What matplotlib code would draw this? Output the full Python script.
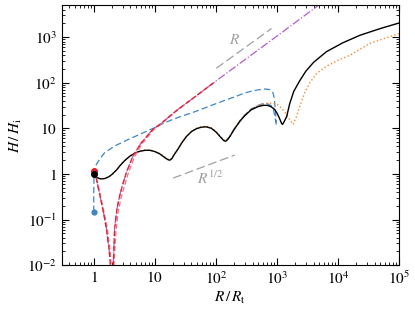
import matplotlib
matplotlib.use('Agg')
import matplotlib.pyplot as plt
from matplotlib.ticker import FixedLocator, LogLocator, NullFormatter

plt.rcParams['font.family'] = 'serif'
plt.rcParams['font.serif'] = ['Liberation Serif', 'DejaVu Serif']
plt.rcParams['mathtext.fontset'] = 'stix'

# black solid (full model)
R_black = [1.0, 1.05, 1.15, 1.3, 1.5, 1.75, 2.0, 2.4, 2.67, 3.2, 3.9, 4.7, 5.7, 7.0, 8.3, 10, 12.1,
           14.5, 16.5, 17.6, 19, 21, 24, 28, 33, 40, 48, 58, 70, 85, 102, 120, 135, 145, 155, 170,
           200, 250, 299, 380, 495, 600, 700, 800, 925, 1020, 1120, 1200, 1240, 1300, 1450, 1630,
           1900, 2370, 3000, 4000, 6500, 12000, 23000, 50000, 1e5]
H_black = [1.0, 0.9, 0.82, 0.78, 0.79, 0.86, 0.98, 1.25, 1.5, 1.95, 2.45, 2.85, 3.15, 3.3, 3.3, 3.1,
           2.75, 2.3, 2.05, 2.0, 2.15, 2.7, 3.5, 4.9, 6.6, 8.5, 9.8, 10.6, 10.8, 10.0, 8.2, 6.4, 5.4,
           5.2, 5.6, 6.6, 9.5, 14.5, 19, 25.5, 30, 32, 32, 30, 26, 21, 16, 12.8, 12.2, 13.5, 18, 35,
           65, 110, 180, 280, 480, 750, 1100, 1550, 2040]

# orange dotted
R_orange = [1.0, 1.05, 1.15, 1.3, 1.5, 1.75, 2.0, 2.4, 2.67, 3.2, 3.9, 4.7, 5.7, 7.0, 8.3, 10, 12.1,
            14.5, 16.5, 17.6, 19, 21, 24, 28, 33, 40, 48, 58, 70, 85, 102, 120, 135, 145, 155, 170,
            200, 250, 299, 380, 495, 600, 710, 850, 1030, 1200, 1450, 1650, 1850, 2100, 2370, 2870,
            3480, 4500, 6500, 10000, 15700, 33500, 1e5]
H_orange = [1.0, 0.9, 0.82, 0.78, 0.79, 0.86, 0.98, 1.25, 1.5, 1.95, 2.45, 2.87, 3.2, 3.35, 3.35, 3.15,
            2.8, 2.35, 2.1, 2.05, 2.2, 2.75, 3.55, 5.0, 6.7, 8.7, 10.0, 10.9, 11.1, 10.3, 8.5, 6.6, 5.6,
            5.4, 5.8, 6.8, 9.8, 15, 19.8, 26.5, 32, 34, 35.5, 35.5, 33, 28, 20, 15, 12.2, 18, 30, 60,
            100, 160, 230, 310, 400, 730, 1200]

# blue dashed (two runs)
R_blue1 = [1.0, 1.0, 1.01, 1.04, 1.1, 1.25, 1.5, 2.2, 3.9, 6.5, 9.4, 13.7, 20, 30, 48,
           80, 140, 220, 300, 400, 500, 635, 760, 870, 900, 925, 955, 985]
H_blue1 = [0.147, 0.4, 0.8, 1.2, 1.6, 2.1, 2.9, 4.1, 5.9, 8.0, 10.0, 12.8, 15.8, 19.2, 23.8,
           31, 41, 51, 60, 66, 70, 73, 71, 60, 48, 36, 22, 13.3]
R_blue2 = [150, 170, 200, 250, 299, 380, 495, 600, 700, 815, 880, 925, 960, 985]
H_blue2 = [5.6, 6.6, 9.5, 14.5, 19.5, 26.5, 32, 35, 35, 31, 26, 19, 14, 12]

# red dashed and purple dash-dot
R_red = [1.0, 1.1, 1.25, 1.45, 1.61, 1.8, 1.93, 2.0, 2.1, 2.2, 2.4, 2.67, 3.0, 3.44, 4.4, 6.0, 9.3,
         12.1, 24, 50, 90]
H_red = [1.15, 0.8, 0.36, 0.14, 0.064, 0.02, 0.006, 0.003, 0.012, 0.064, 0.17, 0.34, 0.6, 1.09, 2.5,
         4.8, 9.5, 12.2, 26, 54, 98]
R_red2 = [1.0, 1.1, 1.25, 1.45, 1.65, 1.85, 1.98, 2.05, 2.15, 2.3, 2.5, 2.8, 3.2, 3.6, 4.6, 6.2, 9.5,
          12.5, 24, 50, 95]
H_red2 = [1.15, 0.82, 0.4, 0.16, 0.07, 0.022, 0.007, 0.003, 0.01, 0.05, 0.14, 0.3, 0.55, 0.95, 2.3,
          4.6, 9.2, 12.2, 26, 54, 102]
R_purple = [1.0, 1.1, 1.25, 1.45, 1.61, 1.8, 1.93, 2.0, 2.1, 2.2, 2.4, 2.67, 3.0, 3.44, 4.4, 6.0, 9.3,
            12.1, 24, 50, 90, 1000, 5500]
H_purple = [1.15, 0.8, 0.36, 0.14, 0.064, 0.02, 0.006, 0.003, 0.012, 0.064, 0.17, 0.34, 0.6, 1.09, 2.5,
            4.8, 9.5, 12.2, 26, 54, 98, 1050, 5700]

# guide lines
R_lin = [102, 820]
H_lin = [208, 1550]
R_sqrt = [20, 205]
H_sqrt = [0.81, 2.6]

xticks = [1, 10, 1e2, 1e3, 1e4, 1e5]
xlabels = ['$1$', '$10$', '$10^2$', '$10^3$', '$10^4$', '$10^5$']
yticks = [1e-2, 1e-1, 1, 10, 1e2, 1e3]
ylabels = ['$10^{-2}$', '$10^{-1}$', '$1$', '$10$', '$10^2$', '$10^3$']

fig = plt.figure(figsize=(4.15, 3.13), dpi=100)
ax = fig.add_axes([0.149, 0.153, 0.812, 0.830])

gray = '#a0a0a0'
ax.plot(R_lin, H_lin, '--', color=gray, lw=0.9, dashes=(7, 3))
ax.plot(R_sqrt, H_sqrt, '--', color=gray, lw=0.9, dashes=(7, 3))
ax.text(205, 860, '$R$', color=gray, fontsize=11, ha='center', va='center')
ax.text(80, 0.8, '$R^{1/2}$', color=gray, fontsize=11, ha='center', va='center')

blue = '#3f86c4'
ax.plot(R_blue1, H_blue1, '--', color=blue, lw=0.9, dashes=(5, 2.5))
ax.plot(R_blue2, H_blue2, '--', color=blue, lw=0.9, dashes=(5, 2.5))
ax.plot(R_orange, H_orange, ':', color='#f58a2c', lw=1.0)
ax.plot(R_black, H_black, '-', color='k', lw=1.0)
ax.plot(R_purple, H_purple, '-.', color='#b35ccc', lw=0.9)
ax.plot(R_red2, H_red2, '--', color='#ee7080', lw=0.9, dashes=(4, 2))
ax.plot(R_red, H_red, '--', color='#e0202c', lw=0.9, dashes=(4, 2))

ax.plot([1], [0.147], 'o', color=blue, ms=3.5)
ax.plot([1], [1.15], 'o', color='#e0202c', ms=4)
ax.plot([1.02], [1.0], 'o', color='k', ms=4)

ax.set_xscale('log')
ax.set_yscale('log')
ax.set_xlim(0.3, 1e5)
ax.set_ylim(1e-2, 5e3)

ax.xaxis.set_major_locator(FixedLocator(xticks))
ax.set_xticklabels(xlabels)
ax.yaxis.set_major_locator(FixedLocator(yticks))
ax.set_yticklabels(ylabels)
ax.xaxis.set_minor_locator(LogLocator(base=10, subs=range(2, 10), numticks=20))
ax.yaxis.set_minor_locator(LogLocator(base=10, subs=range(2, 10), numticks=20))
ax.xaxis.set_minor_formatter(NullFormatter())
ax.yaxis.set_minor_formatter(NullFormatter())
ax.tick_params(which='both', direction='in', top=True, right=True, labelsize=11)
ax.tick_params(which='major', length=5, width=0.8)
ax.tick_params(which='minor', length=2.5, width=0.6)

ax.set_xlabel(r'$R\,/\,R_{\rm t}$', fontsize=11, labelpad=2)
ax.set_ylabel(r'$H\,/\,H_{\rm i}$', fontsize=11, labelpad=2)

plt.savefig('out.png', dpi=100)
plt.close(fig)
